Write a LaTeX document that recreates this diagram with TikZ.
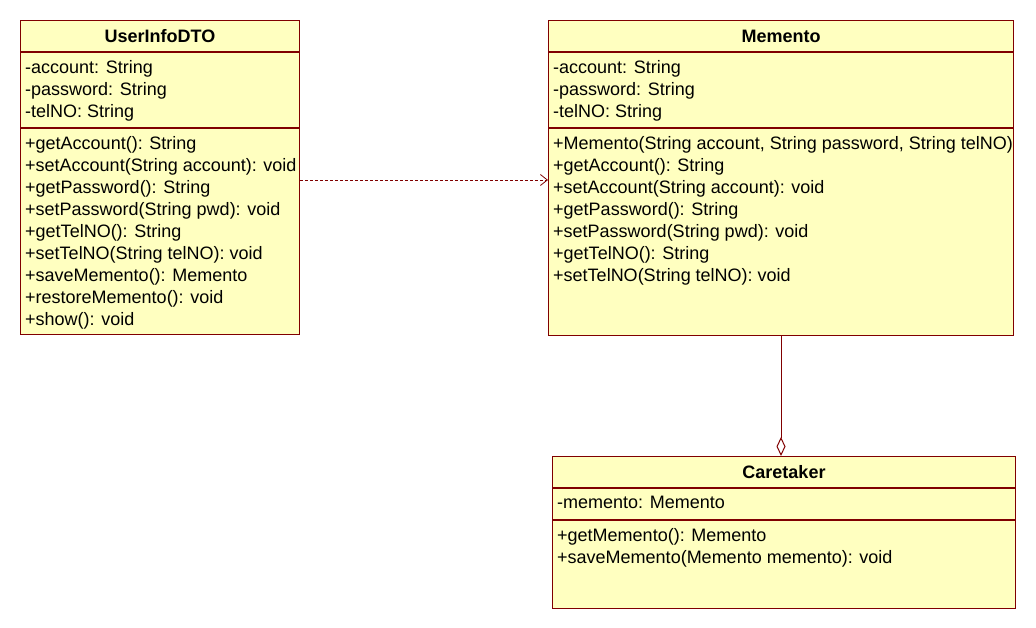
\documentclass[tikz,border=0pt]{standalone}
\usepackage{fontspec}
\setmainfont{Liberation Sans}
\usepackage{tikz}
\usetikzlibrary{positioning, arrows.meta}
\definecolor{umlborder}{RGB}{128,0,0}
\definecolor{umlfill}{RGB}{255,255,192}

\tikzset{
    compart/.style={draw=umlborder, fill=umlfill, line width=1pt, inner sep=0pt, anchor=north west},
    classname/.style={font=\fontsize{18}{22}\selectfont\bfseries, inner sep=0pt},
    members/.style={font=\fontsize{18}{22}\selectfont, align=left, inner sep=0pt, anchor=north west},
    depend/.style={draw=umlborder, line width=0.8pt, dash pattern=on 3pt off 2pt, -{Straight Barb[length=7pt, width=11pt, line width=0.8pt]}},
    aggreg/.style={draw=umlborder, line width=1pt, -{Diamond[open, fill=white, length=19pt, width=9pt, line width=1pt]}}
}

\begin{document}
\begin{tikzpicture}[x=1pt, y=-1pt]
    \useasboundingbox (0,0) rectangle (1036,628);

    % UserInfoDTO
    \node[compart, minimum width=279pt, minimum height=31pt] (dtoTitle) at (20,20) {};
    \node[compart, minimum width=279pt, minimum height=75pt, below=0pt of dtoTitle.south west, anchor=north west] (dtoAttr) {};
    \node[compart, minimum width=279pt, minimum height=206pt, below=0pt of dtoAttr.south west, anchor=north west] (dtoMeth) {};
    \node[classname] (dtoName) at (dtoTitle.center) {UserInfoDTO};
    \node[members] (dtoAttrText) at ([xshift=5pt, yshift=-8pt]dtoAttr.north west)
        {-account: String\\-password: String\\-telNO: String};
    \node[members] (dtoMethText) at ([xshift=5pt, yshift=-8pt]dtoMeth.north west)
        {+getAccount(): String\\+setAccount(String account): void\\+getPassword(): String\\
         +setPassword(String pwd): void\\+getTelNO(): String\\+setTelNO(String telNO): void\\
         +saveMemento(): Memento\\+restoreMemento(): void\\+show(): void};

    % Memento
    \node[compart, minimum width=465pt, minimum height=31pt] (memTitle) at (548,20) {};
    \node[compart, minimum width=465pt, minimum height=75pt, below=0pt of memTitle.south west, anchor=north west] (memAttr) {};
    \node[compart, minimum width=465pt, minimum height=207pt, below=0pt of memAttr.south west, anchor=north west] (memMeth) {};
    \node[classname] (memName) at (memTitle.center) {Memento};
    \node[members] (memAttrText) at ([xshift=5pt, yshift=-8pt]memAttr.north west)
        {-account: String\\-password: String\\-telNO: String};
    \node[members] (memMethText) at ([xshift=5pt, yshift=-8pt]memMeth.north west)
        {+Memento(String account, String password, String telNO)\\+getAccount(): String\\
         +setAccount(String account): void\\+getPassword(): String\\+setPassword(String pwd): void\\
         +getTelNO(): String\\+setTelNO(String telNO): void};

    % Caretaker
    \node[compart, minimum width=463pt, minimum height=31pt] (ctTitle) at (552,456) {};
    \node[compart, minimum width=463pt, minimum height=31pt, below=0pt of ctTitle.south west, anchor=north west] (ctAttr) {};
    \node[compart, minimum width=463pt, minimum height=88pt, below=0pt of ctAttr.south west, anchor=north west] (ctMeth) {};
    \node[classname] (ctName) at (ctTitle.center) {Caretaker};
    \node[members] (ctAttrText) at ([xshift=5pt, yshift=-8pt]ctAttr.north west)
        {-memento: Memento};
    \node[members] (ctMethText) at ([xshift=5pt, yshift=-8pt]ctMeth.north west)
        {+getMemento(): Memento\\+saveMemento(Memento memento): void};

    % relations
    \draw[depend] ([yshift=-52pt]dtoMeth.north east) -- ([yshift=-52pt]memMeth.north west);
    \draw[aggreg] (memMeth.south) -- (memMeth.south |- ctTitle.north);
\end{tikzpicture}
\end{document}
